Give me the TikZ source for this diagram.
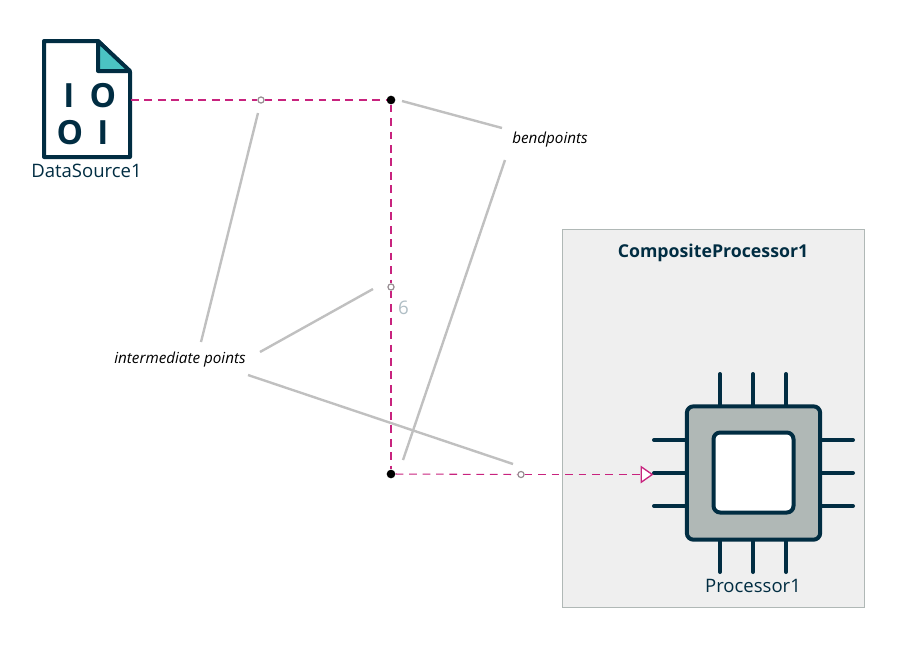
\documentclass[tikz,border=0pt]{standalone}
\usepackage{fontspec}
\setmainfont{Open Sans}
\usetikzlibrary{arrows.meta,positioning,shapes,calc}
\definecolor{darknavy}{RGB}{1,45,66}
\definecolor{linkpink}{RGB}{200,35,126}
\definecolor{notegray}{RGB}{192,192,192}
\definecolor{filetael}{RGB}{75,195,195}
\definecolor{chipgray}{RGB}{176,184,182}
\definecolor{boxgray}{RGB}{239,239,239}
\definecolor{pointgray}{RGB}{150,140,145}
\definecolor{countgray}{RGB}{176,190,197}
\tikzset{
  link/.style={linkpink, line width=0.8pt, dash pattern=on 5.8pt off 4.3pt},
  note/.style={notegray, line width=1.8pt},
  pin/.style={darknavy, line width=3pt, line cap=round},
  bendpoint/.style={circle, fill=black, inner sep=0pt, minimum size=6.5pt},
  midpoint/.style={circle, draw=pointgray, fill=white, line width=0.9pt, inner sep=0pt, minimum size=4.6pt},
  notetext/.style={font=\fontsize{11.4}{13}\selectfont\itshape, black},
  partname/.style={font=\fontsize{13.9}{16}\selectfont, darknavy},
  filebit/.style={font=\fontsize{25}{25}\selectfont\bfseries, darknavy, inner sep=0pt}
}
\begin{document}
\begin{tikzpicture}[x=0.75pt, y=-0.75pt]
    \useasboundingbox (0,0) rectangle (907,651);
    % Composite box
    \node[draw=chipgray, fill=boxgray, line width=0.75pt, minimum width=226.5pt, minimum height=283.5pt, inner sep=0pt] (composite) at (713,418) {};
    \node[font=\fontsize{13.3}{16}\selectfont\bfseries, darknavy] (compositename) at (713,253) {CompositeProcessor1};
    % Processor pins
    \foreach \p in {720,753,786} {
        \draw[pin] (\p,374) -- (\p,406);
        \draw[pin] (\p,540) -- (\p,572);
    }
    \foreach \p in {440,473,506} {
        \draw[pin] (654,\p) -- (686,\p);
        \draw[pin] (821,\p) -- (853,\p);
    }
    % Processor body
    \node[draw=darknavy, fill=chipgray, line width=3pt, rounded corners=5pt, minimum size=100pt, inner sep=0pt] (processor) at (753.5,473) {};
    \node[draw=darknavy, fill=white, line width=3pt, rounded corners=5pt, minimum size=60pt, inner sep=0pt] (processorcore) at (753.5,472.5) {};
    \node[partname] (processorname) at (753,586) {Processor1};
    % Data source file
    \draw[darknavy, line width=3pt, fill=white, line join=round] (44,41) -- (98,41) -- (130,72) -- (130,157) -- (44,157) -- cycle;
    \draw[darknavy, line width=3pt, fill=filetael, line join=round] (98,41) -- (130,71) -- (98,71) -- cycle;
    \node[filebit] (bita) at (69,96) {I};
    \node[filebit] (bitb) at (103,96) {O};
    \node[filebit] (bitc) at (70,133) {O};
    \node[filebit] (bitd) at (103,133) {I};
    \coordinate (source) at (131,100);
    \node[partname] (sourcename) at (86.5,171) {DataSource1};
    % Target port
    \node[draw=linkpink, fill=white, line width=1pt, isosceles triangle, isosceles triangle apex angle=70, minimum size=0pt, inner sep=2.4pt] (port) at (644.5,474.5) {};
    % Bendpoints and intermediate points
    \node[bendpoint] (benda) at (391,100) {};
    \node[bendpoint] (bendb) at (391,474) {};
    \node[midpoint] (mida) at (261,100) {};
    \node[midpoint] (midb) at (391,287) {};
    \node[midpoint] (midc) at (521,474.5) {};
    % Dashed connector
    \draw[link] (source) -- (mida);
    \draw[link] (mida) -- (benda);
    \draw[link] (benda) -- (midb);
    \draw[link] (midb) -- (bendb);
    \draw[link] (bendb) -- (midc);
    \draw[link] (midc) -- (port);
    \node[font=\fontsize{14}{16}\selectfont, countgray] (count) at (403.5,308) {6};
    % Notes
    \node[notetext] (bendnote) at (550,139.5) {bendpoints};
    \node[notetext] (midnote) at (180,359.5) {intermediate points};
    \coordinate (bendnotea) at (402,101);
    \coordinate (bendnoteb) at (502,128);
    \coordinate (bendnotec) at (505,160);
    \coordinate (bendnoted) at (403,460);
    \coordinate (midnotea) at (258,113);
    \coordinate (midnoteb) at (201,342);
    \coordinate (midnotec) at (373,289);
    \coordinate (midnoted) at (260,352);
    \coordinate (midnotee) at (513,464);
    \coordinate (midnotef) at (248,375);
    \draw[note] (bendnotea) -- (bendnoteb);
    \draw[note] (bendnotec) -- (bendnoted);
    \draw[note] (midnotea) -- (midnoteb);
    \draw[note] (midnotec) -- (midnoted);
    \draw[note] (midnotee) -- (midnotef);
\end{tikzpicture}
\end{document}
